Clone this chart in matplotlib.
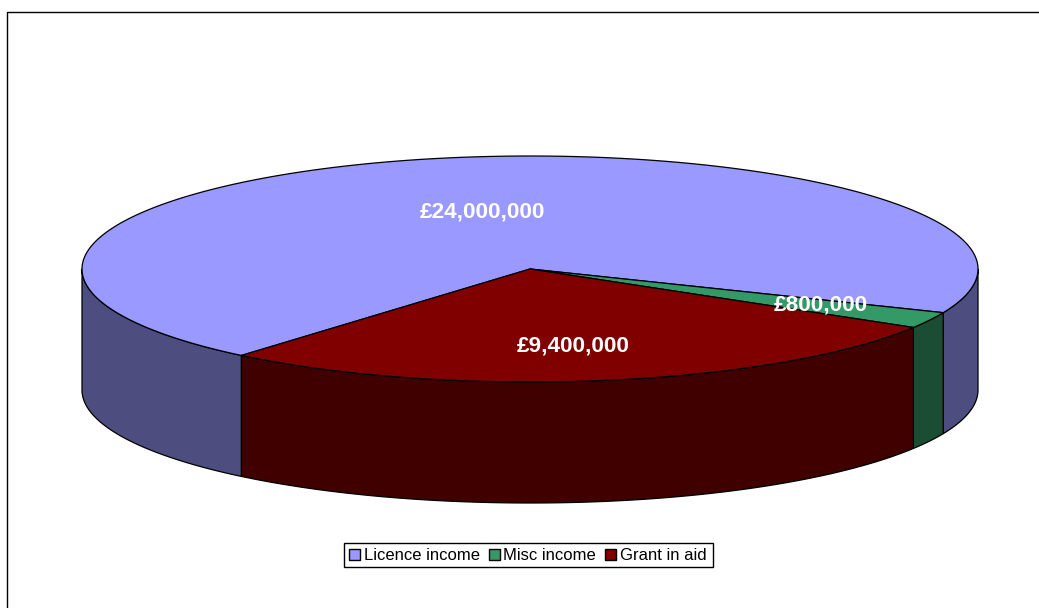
import matplotlib
matplotlib.use("Agg")
import matplotlib.pyplot as plt
from matplotlib.patches import Polygon, Rectangle
import numpy as np

labels = ["Licence income", "Misc income", "Grant in aid"]
values = [24000000, 800000, 9400000]
value_labels = ["£24,000,000", "£800,000", "£9,400,000"]
top_colors = ["#9999FF", "#339966", "#800000"]
side_colors = ["#4D4D80", "#1A4D33", "#400000"]

plt.rcParams["font.family"] = ["Liberation Sans", "DejaVu Sans"]

cx, cy = 530, 269
rx, ry = 448, 113
depth = 121
start = 229.9  # first slice starts here, goes clockwise


def ell(t):
    t = np.radians(t)
    return np.column_stack([cx + rx * np.cos(t), cy - ry * np.sin(t)])


fig = plt.figure(figsize=(10.39, 6.08), dpi=100)
ax = fig.add_axes([0, 0, 1, 1])
ax.set_xlim(0, 1039)
ax.set_ylim(608, 0)
ax.axis("off")

# frame, only left and top are inside the picture
ax.plot([7, 7, 1045], [615, 12.2, 12.2], color="black", lw=1, solid_capstyle="butt", zorder=1)

shares = np.array(values) / sum(values) * 360
ends = start - np.cumsum(shares)
starts = ends + shares

# sides of the front half first
for a, b, c in zip(starts, ends, side_colors):
    for lo, hi in [(max(b, -180), min(a, 0)), (max(b - 360, -180), min(a - 360, 0))]:
        if hi <= lo:
            continue
        arc = ell(np.linspace(hi, lo, 120))
        low = arc + [0, depth]
        pts = np.vstack([arc, low[::-1]])
        ax.add_patch(Polygon(pts, closed=True, fc=c, ec="black", lw=0.9, joinstyle="round", zorder=2))

# top faces
for a, b, c in zip(starts, ends, top_colors):
    arc = ell(np.linspace(a, b, 300))
    pts = np.vstack([[cx, cy], arc])
    ax.add_patch(Polygon(pts, closed=True, fc=c, ec="black", lw=0.9, joinstyle="round", zorder=3))

label_pos = [(482, 212), (821, 305), (573, 346)]
for (x, y), s in zip(label_pos, value_labels):
    ax.text(x, y, s, color="white", fontsize=16.2, fontweight="bold", ha="center", va="center", zorder=5)

# legend box
ax.add_patch(Rectangle((343.5, 542.5), 369, 24, fc="white", ec="black", lw=1, zorder=4))
swatch_x = [349, 489, 605]
text_x = [364, 503, 620]
for sx, tx, s, c in zip(swatch_x, text_x, labels, top_colors):
    ax.add_patch(Rectangle((sx, 549), 11, 11, fc=c, ec="black", lw=1, zorder=5))
    ax.text(tx, 555.5, s, color="black", fontsize=12, ha="left", va="center", zorder=5)

fig.savefig("out.png", dpi=100)
